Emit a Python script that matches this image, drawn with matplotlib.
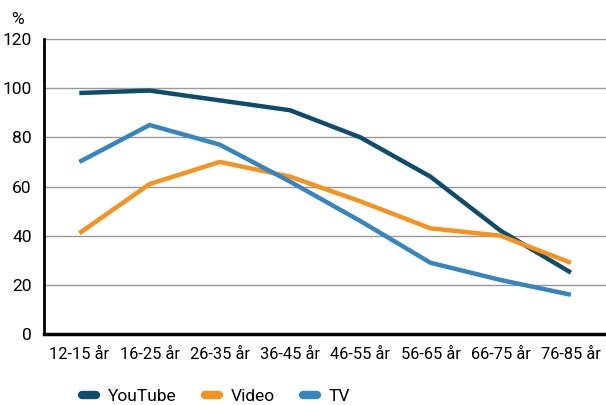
import matplotlib.pyplot as plt
from matplotlib.lines import Line2D

plt.rcParams['font.family'] = ['Roboto', 'DejaVu Sans']

ages = ["12-15 år", "16-25 år", "26-35 år", "36-45 år",
        "46-55 år", "56-65 år", "66-75 år", "76-85 år"]
youtube = [98, 99, 95, 91, 80, 64, 42, 25]
video = [41, 61, 70, 64, 54, 43, 40, 29]
tv = [70, 85, 77, 62, 46, 29, 22, 16]

c_yt = '#0e4c6c'
c_video = '#f7921e'
c_tv = '#3585c1'

fig = plt.figure(figsize=(6.06, 4.05), dpi=100)
ax = fig.add_axes([0.073, 0.175, 0.927, 0.729])

x = range(len(ages))
ax.plot(x, youtube, color=c_yt, lw=3.2, solid_capstyle='butt')
ax.plot(x, video, color=c_video, lw=3.2, solid_capstyle='butt')
ax.plot(x, tv, color=c_tv, lw=3.2, solid_capstyle='butt')

ax.set_xlim(-0.5, 7.5)
ax.set_ylim(0, 120)
ax.set_yticks(range(0, 121, 20))
ax.set_xticks(list(x))
ax.set_xticklabels(ages)
ax.yaxis.grid(True, color='#999999', lw=1)
ax.set_axisbelow(True)
ax.tick_params(axis='y', length=0, labelsize=12.5, pad=9)
ax.tick_params(axis='x', length=0, labelsize=11.8, pad=9)
for s in ['top', 'right']:
    ax.spines[s].set_visible(False)
ax.spines['left'].set_linewidth(2)
ax.spines['bottom'].set_linewidth(2.5)
ax.text(-0.047, 1.04, '%', transform=ax.transAxes, fontsize=12.5, ha='center', va='bottom')

handles = [Line2D([], [], color=c, lw=6, solid_capstyle='round') for c in (c_yt, c_video, c_tv)]
fig.legend(handles, ['YouTube', 'Video', 'TV'], loc='center left', bbox_to_anchor=(0.11, 0.02),
           ncol=3, frameon=False, fontsize=12.5, handlelength=0.8, columnspacing=1.6, handletextpad=0.7)

fig.savefig('out.png', dpi=100)
